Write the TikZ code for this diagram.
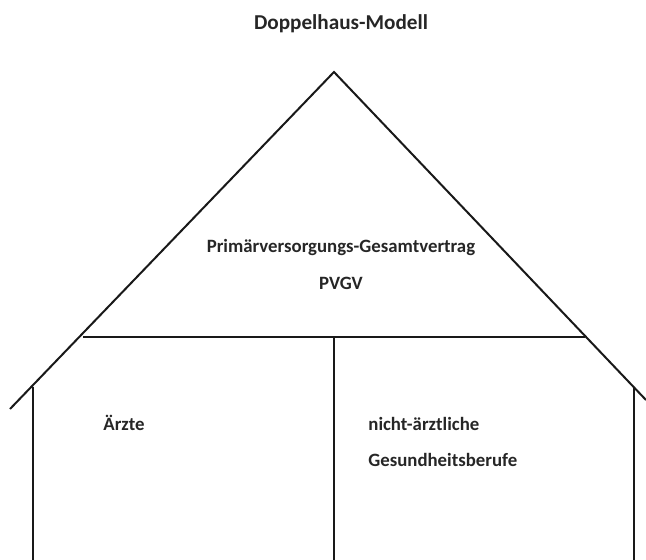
\documentclass[tikz,border=0pt]{standalone}
\usepackage{fontspec}
\setmainfont{Carlito}

\begin{document}
\begin{tikzpicture}[x=0.5pt,y=-0.5pt,
  every node/.style={font=\bfseries\fontsize{9.4}{11}\selectfont, text=black!85, inner sep=0pt},
  haus/.style={line width=1pt, draw=black!90},
  ]
  \useasboundingbox (0,0) rectangle (646,560);
  % Dach
  \coordinate (apex) at (334,72);
  \coordinate (dachL) at (10,409);
  \coordinate (dachR) at (646,400);
  \coordinate (balkenL) at (83,337);
  \coordinate (balkenR) at (585,337);
  \coordinate (balkenM) at (334,337);
  % Waende
  \coordinate (wandL) at (33,387);
  \coordinate (wandR) at (634,387);
  \coordinate (bodenL) at (33,560);
  \coordinate (bodenR) at (634,560);
  \coordinate (bodenM) at (334,560);

  \draw[haus] (dachL) -- (apex) -- (dachR);
  \draw[haus] (balkenL) -- (balkenR);
  \draw[haus] (balkenM) -- (bodenM);
  \draw[haus] (wandL) -- (bodenL);
  \draw[haus] (wandR) -- (bodenR);

  \node[anchor=base, font=\bfseries\fontsize{10.6}{12}\selectfont] (titel) at (341,30) {Doppelhaus-Modell};
  \node[anchor=base] (vertrag) at (341,253) {Primärversorgungs-Gesamtvertrag};
  \node[anchor=base] (pvgv) at (341,290) {PVGV};
  \node[anchor=base west] (aerzte) at (103,430) {Ärzte};
  \node[anchor=base west] (nichtaerzte) at (368,430) {nicht-ärztliche};
  \node[anchor=base west] (berufe) at (368,466) {Gesundheitsberufe};
\end{tikzpicture}
\end{document}
